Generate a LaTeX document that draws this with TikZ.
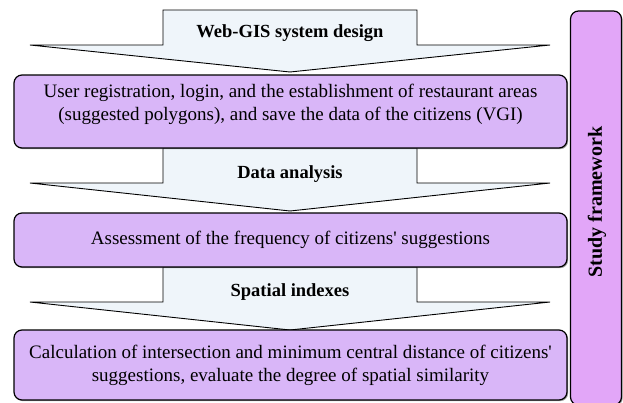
\documentclass[tikz,border=0pt]{standalone}
\usepackage{fontspec}
\setmainfont{Liberation Serif}
\usepackage{tikz}
\usetikzlibrary{shadows}
\definecolor{StepLilac}{HTML}{D9B6F8}
\definecolor{FramePink}{HTML}{E2A6F8}
\definecolor{ArrowMist}{HTML}{EFF5FA}

\begin{document}
\begin{tikzpicture}[
  x=1pt,y=-1pt,
  stage/.style={draw=black,line width=1.2pt,fill=StepLilac,rounded corners=8pt,
    minimum width=553pt,align=center,font=\fontsize{19}{23}\selectfont,
    drop shadow={shadow xshift=1.2pt,shadow yshift=-1.2pt,fill=black!70}},
  flow/.style={draw=black,line width=0.9pt,fill=ArrowMist},
  flowlabel/.style={font=\fontsize{18.5}{20}\selectfont\bfseries},
]
\useasboundingbox (0,0) rectangle (623,402);
% downward block arrows between the stages
\foreach \top/\wing/\tip in {10/45/72, 148/183/211, 267/302/330}
  \draw[flow] (163,\top) -- (417,\top) -- (417,\wing) -- (550,\wing) -- (290,\tip)
    -- (30,\wing) -- (163,\wing) -- cycle;
\node[flowlabel] (lbl1) at (290,33) {Web-GIS system design};
\node[flowlabel] (lbl2) at (290,174) {Data analysis};
\node[flowlabel] (lbl3) at (290,292) {Spatial indexes};
% stages
\node[stage,minimum height=73pt,text depth=19pt] (st1) at (290.5,111.5) {User registration, login, and the establishment of restaurant areas\\(suggested polygons), and save the data of the citizens (VGI)};
\node[stage,minimum height=54pt] (st2) at (290.5,240) {Assessment of the frequency of citizens\textquotesingle{} suggestions};
\node[stage,minimum height=70pt] (st3) at (290.5,365) {Calculation of intersection and minimum central distance of citizens\textquotesingle\\suggestions, evaluate the degree of spatial similarity};
% side bar
\node[draw=black,line width=1.2pt,fill=FramePink,rounded corners=8pt,
  minimum width=51pt,minimum height=394pt,
  drop shadow={shadow xshift=1.2pt,shadow yshift=-1.2pt,fill=black!70}] (frame) at (596,208) {};
\node[rotate=90,font=\fontsize{20}{22}\selectfont\bfseries] (frametxt) at (597,202) {Study framework};
\end{tikzpicture}
\end{document}
